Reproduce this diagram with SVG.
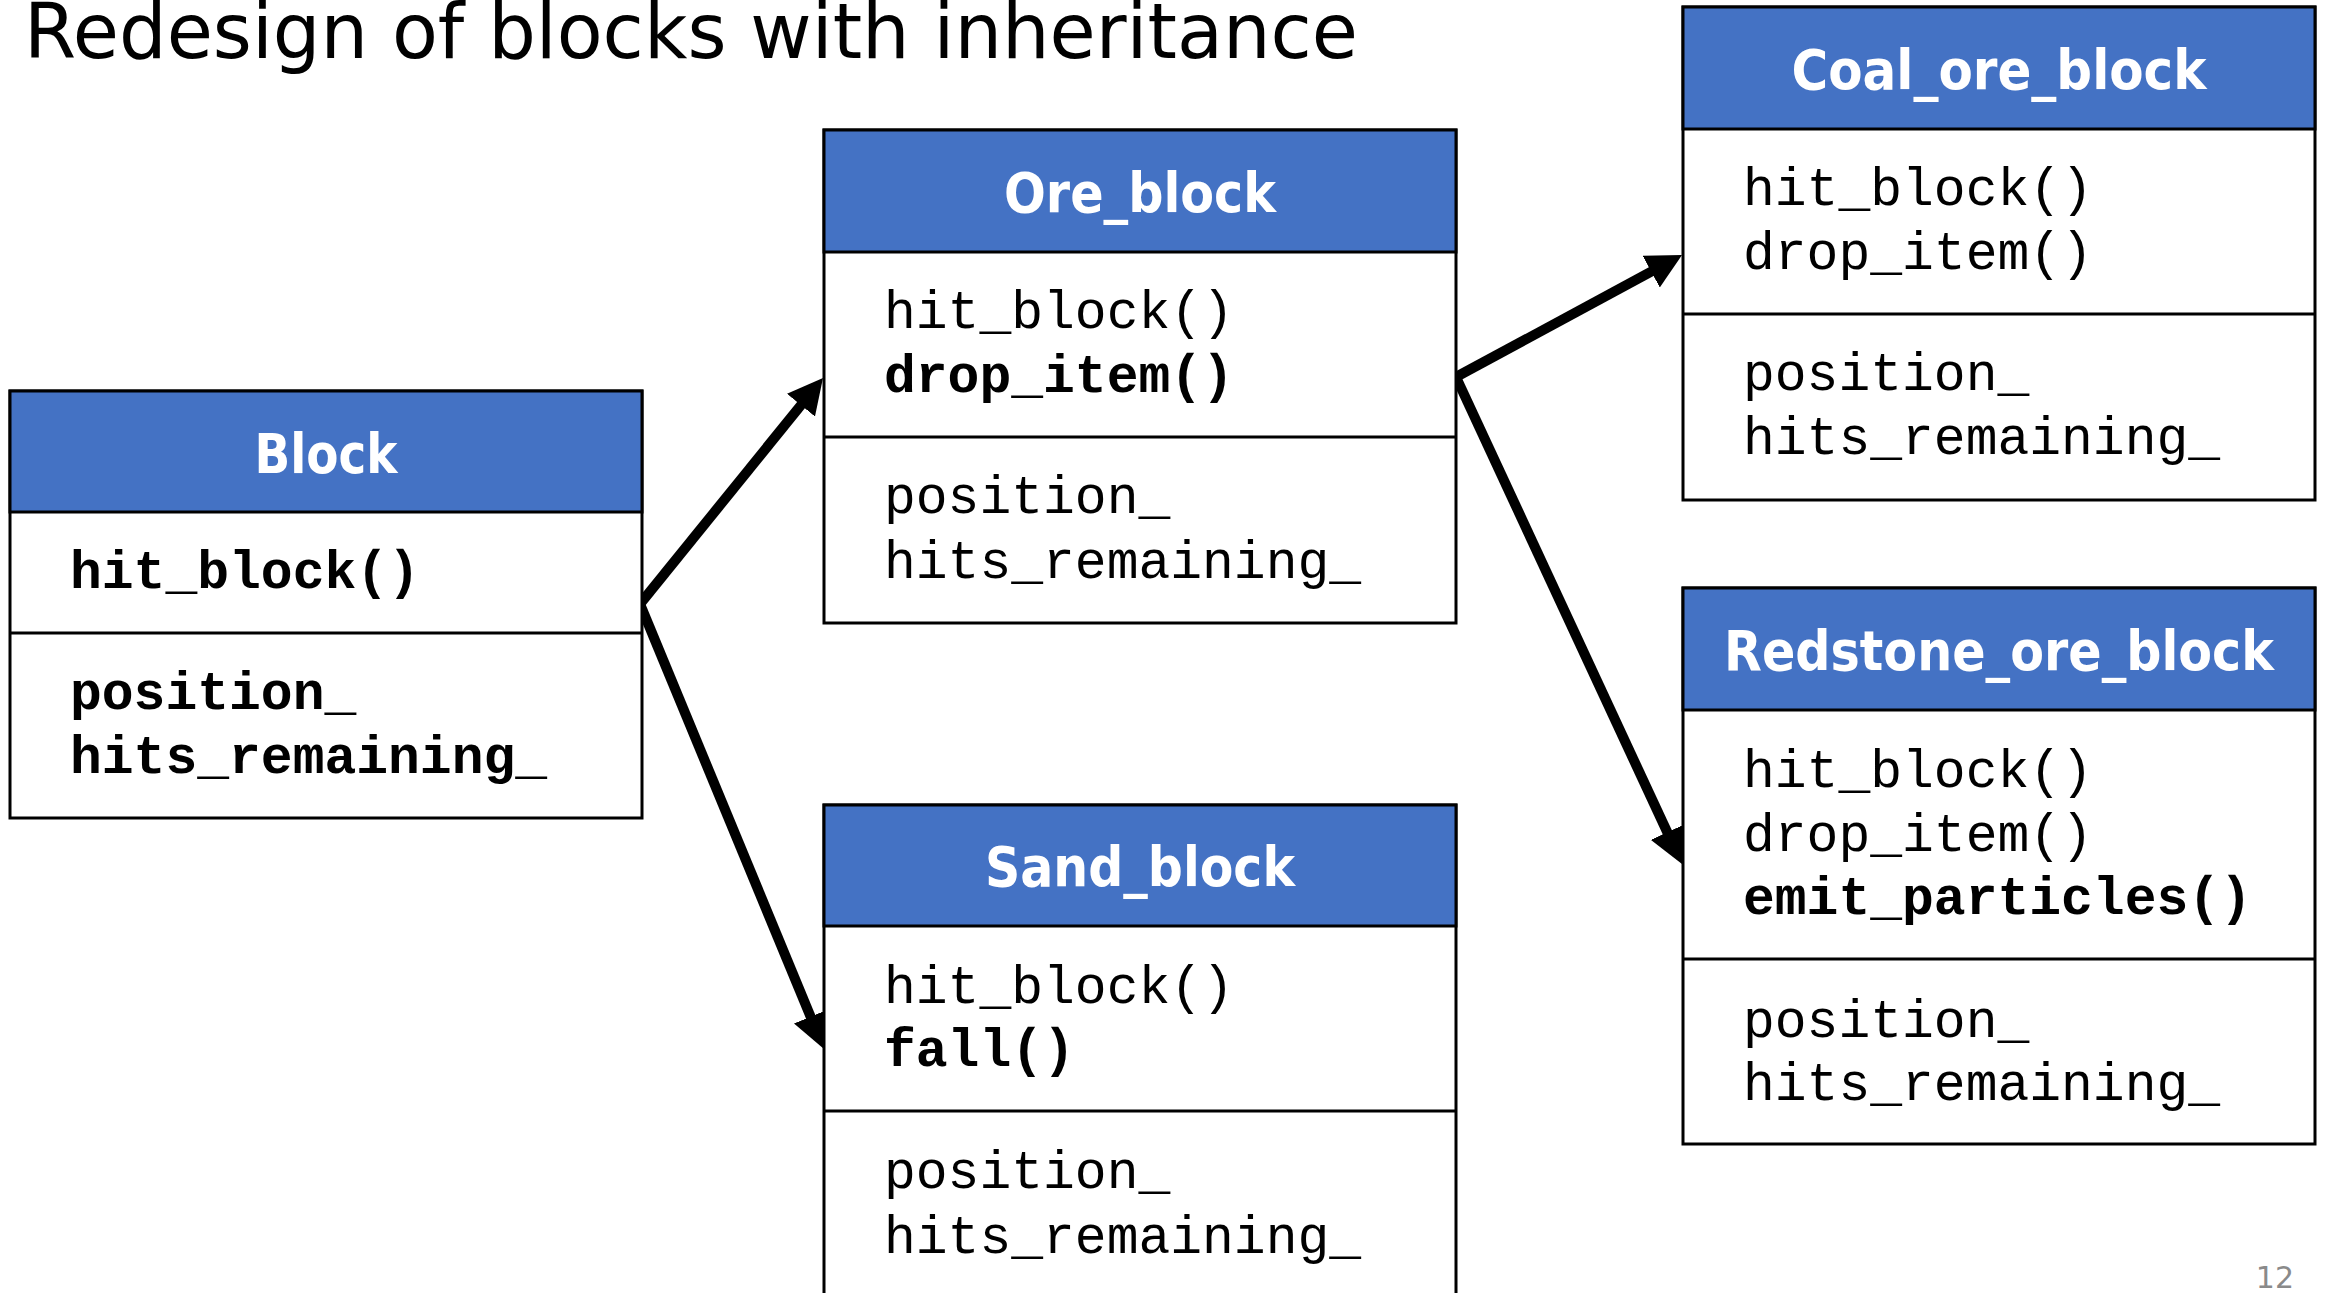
<svg xmlns="http://www.w3.org/2000/svg" width="2325" height="1293" viewBox="0 0 2325 1293">
<style>
.bg{fill:#ffffff}
.box{fill:#ffffff;stroke:#000000;stroke-width:3}
.hdr{fill:#4472C4;stroke:#000000;stroke-width:3}
.div{stroke:#000000;stroke-width:3}
.ht{font-family:"DejaVu Sans Condensed","DejaVu Sans","Liberation Sans",sans-serif;font-weight:bold;font-size:55px;fill:#ffffff;text-anchor:middle}
.m{font-family:"Liberation Mono","Courier New",monospace;font-size:53px;fill:#000000}
.b{font-weight:bold}
.title{font-family:"DejaVu Sans","Liberation Sans",sans-serif;font-size:77px;fill:#000000}
.pg{font-family:"DejaVu Sans","Liberation Sans",sans-serif;font-size:30px;fill:#8a8a8a;text-anchor:end}
.conn{fill:none;stroke:#000000;stroke-width:10;stroke-linecap:butt}
</style>
<defs>
<marker id="arrow" markerUnits="userSpaceOnUse" markerWidth="35" markerHeight="36" viewBox="0 0 35 36" refX="1" refY="18" orient="auto">
<path d="M0,0 L35,18 L0,36 z" fill="#000000"/>
</marker>
</defs>
<rect class="bg" x="0" y="0" width="2325" height="1293"/>
<text class="title" x="24" y="58" textLength="1334" lengthAdjust="spacingAndGlyphs">Redesign of blocks with inheritance</text>

<g id="connectors">
<path class="conn" d="M640,604 L801.6,404.4" marker-end="url(#arrow)"/>
<path class="conn" d="M640,604 L811,1017.6" marker-end="url(#arrow)"/>
<path class="conn" d="M1456,377 L1652.1,271.2" marker-end="url(#arrow)"/>
<path class="conn" d="M1456,377 L1667.7,833.2" marker-end="url(#arrow)"/>
</g>

<g id="node-block">
<rect class="box" x="10" y="391" width="632" height="427"/>
<rect class="hdr" x="10" y="391" width="632" height="121"/>
<line class="div" x1="10" y1="633" x2="642" y2="633"/>
<text class="ht" x="326" y="473" textLength="143" lengthAdjust="spacingAndGlyphs">Block</text>
<text class="m b" x="70" y="588">hit_block()</text>
<text class="m b" x="70" y="709">position_</text>
<text class="m b" x="70" y="773">hits_remaining_</text>
</g>

<g id="node-ore-block">
<rect class="box" x="824" y="130" width="632" height="493"/>
<rect class="hdr" x="824" y="130" width="632" height="122"/>
<line class="div" x1="824" y1="437" x2="1456" y2="437"/>
<text class="ht" x="1140" y="212" textLength="272" lengthAdjust="spacingAndGlyphs">Ore_block</text>
<text class="m" x="884" y="327.5">hit_block()</text>
<text class="m b" x="884" y="391.5">drop_item()</text>
<text class="m" x="884" y="513">position_</text>
<text class="m" x="884" y="577.5">hits_remaining_</text>
</g>

<g id="node-sand-block">
<rect class="box" x="824" y="805" width="632" height="500"/>
<rect class="hdr" x="824" y="805" width="632" height="121"/>
<line class="div" x1="824" y1="1111" x2="1456" y2="1111"/>
<text class="ht" x="1140" y="886" textLength="310" lengthAdjust="spacingAndGlyphs">Sand_block</text>
<text class="m" x="884" y="1002.5">hit_block()</text>
<text class="m b" x="884" y="1066">fall()</text>
<text class="m" x="884" y="1188">position_</text>
<text class="m" x="884" y="1252.5">hits_remaining_</text>
</g>

<g id="node-coal-ore-block">
<rect class="box" x="1683" y="7" width="632" height="493"/>
<rect class="hdr" x="1683" y="7" width="632" height="122"/>
<line class="div" x1="1683" y1="314" x2="2315" y2="314"/>
<text class="ht" x="1999" y="89" textLength="415" lengthAdjust="spacingAndGlyphs">Coal_ore_block</text>
<text class="m" x="1743" y="205">hit_block()</text>
<text class="m" x="1743" y="269">drop_item()</text>
<text class="m" x="1743" y="390">position_</text>
<text class="m" x="1743" y="454">hits_remaining_</text>
</g>

<g id="node-redstone-ore-block">
<rect class="box" x="1683" y="588" width="632" height="556"/>
<rect class="hdr" x="1683" y="588" width="632" height="122"/>
<line class="div" x1="1683" y1="959" x2="2315" y2="959"/>
<text class="ht" x="1999" y="670" textLength="550" lengthAdjust="spacingAndGlyphs">Redstone_ore_block</text>
<text class="m" x="1743" y="787">hit_block()</text>
<text class="m" x="1743" y="851">drop_item()</text>
<text class="m b" x="1743" y="914">emit_particles()</text>
<text class="m" x="1743" y="1036.5">position_</text>
<text class="m" x="1743" y="1100">hits_remaining_</text>
</g>

<text class="pg" x="2294" y="1288">12</text>
</svg>
